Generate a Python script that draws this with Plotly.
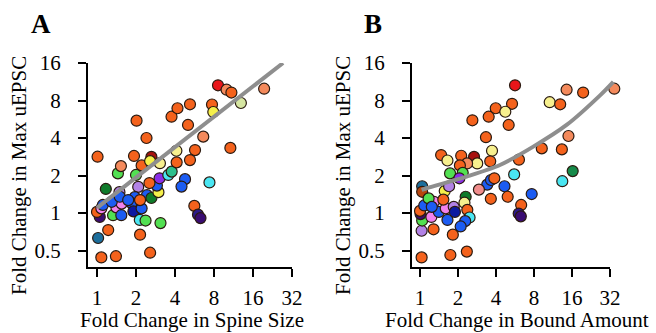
import math
import plotly.graph_objects as go

# ---------------- data ----------------
x_ticks = [1, 2, 4, 8, 16, 32]
x_tick_text = ["1", "2", "4", "8", "16", "32"]
y_ticks = [0.5, 1, 2, 4, 8, 16]
y_tick_text = ["0.5", "1", "2", "4", "8", "16"]

# Panel A: fold change in spine size vs fold change in max uEPSC
a_x = [1.01, 1.08, 1.40, 1.22, 1.02, 1.05, 1.00, 1.08, 1.11, 1.17,
       1.33, 1.41, 1.55, 1.49, 1.54, 1.45, 1.53, 1.93, 2.02, 2.00,
       2.21, 2.41, 2.63, 2.57, 3.06, 2.08, 1.96, 1.85, 1.91, 2.14,
       2.37, 2.15, 2.57, 3.09, 2.43, 2.63, 2.98, 2.90, 3.04, 2.54,
       3.55, 3.77, 4.12, 4.10, 3.76, 4.18, 5.22, 5.04, 5.71, 5.22,
       4.78, 4.49, 5.64, 6.02, 6.29, 6.61, 7.38, 7.72, 7.90, 8.59,
       10.0, 10.9, 10.7, 12.9, 19.5, 1.30, 1.50, 2.21, 2.15, 1.74]
a_y = [2.83, 0.44, 0.45, 0.73, 0.63, 0.93, 1.02, 1.09, 1.16, 1.56,
       0.96, 1.11, 1.19, 1.47, 0.96, 2.08, 2.38, 2.87, 5.51, 2.02,
       2.41, 4.00, 2.82, 2.61, 2.51, 1.62, 1.34, 1.20, 1.03, 0.88,
       0.87, 0.67, 0.48, 0.83, 1.39, 1.32, 1.47, 1.66, 1.90, 1.74,
       2.02, 2.15, 2.55, 3.16, 5.93, 6.93, 7.46, 5.09, 3.20, 2.66,
       1.87, 1.63, 1.14, 0.97, 0.91, 4.10, 1.76, 7.43, 6.47, 10.6,
       9.77, 9.27, 3.33, 7.64, 9.95, 1.23, 1.35, 1.09, 1.27, 1.27]
a_c = ["orange", "orange", "orange", "orange", "teal", "indigo", "orange", "pink", "blue", "darkgreen",
       "green", "pink", "pink", "lavender", "blue", "green", "salmon", "orange", "orange", "green",
       "orange", "orange", "darkred", "yellow", "paleyellow", "lavender", "blue", "blue", "navy", "cyan",
       "green", "orange", "orange", "green", "blue", "darkgreen", "yellow", "blue", "violet", "orange",
       "cyan", "teal green", "orange", "paleyellow", "orange", "orange", "orange", "orange", "orange", "orange",
       "blue", "blue", "orange", "navyviolet", "indigo", "salmon", "cyan", "orange", "yellow", "red",
       "salmon", "orange", "orange", "paleolive", "salmon", "blue", "blue", "blue", "orange", "blue"]

# Panel B: fold change in bound amount vs fold change in max uEPSC
b_x = [5.66, 14.5, 19.6, 34.6, 10.65, 12.9, 5.36, 3.98, 4.74, 3.50,
       2.60, 5.04, 3.33, 15.0, 9.22, 13.3, 3.72, 1.47, 2.12, 1.65,
       2.68, 2.84, 2.36, 3.60, 6.08, 2.07, 1.73, 2.18, 2.05, 5.57,
       16.2, 13.4, 1.04, 1.04, 1.57, 1.70, 3.41, 3.65, 3.88, 4.67,
       2.93, 7.67, 3.64, 4.95, 6.33, 6.05, 6.29, 2.30, 2.25, 2.37,
       2.47, 2.28, 2.10, 1.82, 1.74, 2.35, 1.03, 1.28, 1.03, 1.04,
       1.01, 1.00, 1.08, 1.23, 1.29, 1.41, 1.65, 1.60, 1.85, 1.89,
       1.53, 1.17, 1.24]
b_y = [10.6, 9.77, 9.27, 9.95, 7.75, 7.46, 7.53, 6.93, 6.50, 5.93,
       5.55, 5.09, 4.06, 4.15, 3.30, 3.24, 3.16, 2.92, 2.88, 2.64,
       2.82, 2.50, 2.50, 2.60, 2.68, 2.41, 2.08, 2.10, 1.90, 2.04,
       2.17, 1.80, 1.64, 1.48, 1.50, 1.64, 1.69, 1.84, 1.90, 1.64,
       1.54, 1.42, 1.30, 1.35, 1.16, 0.99, 0.94, 1.35, 1.21, 1.06,
       0.92, 0.86, 0.78, 0.67, 0.46, 0.49, 0.44, 0.74, 0.72, 0.87,
       0.98, 1.04, 1.15, 0.93, 1.23, 1.02, 0.88, 1.09, 1.12, 1.02,
       1.28, 1.31, 1.12]
b_c = ["red", "salmon", "orange", "salmon", "paleyellow", "orange", "orange", "orange", "paleyellow", "orange",
       "orange", "orange", "orange", "salmon", "orange", "orange", "paleyellow", "orange", "orange", "paleyellow",
       "darkred", "paleyellow", "salmon", "orange", "orange", "orange", "green", "green", "violet", "cyan",
       "darkgreen2", "cyan", "teal", "darkorange", "yellow", "lavender", "blue", "blue", "orange", "blue",
       "rosepink", "blue", "orange", "orange", "orange", "navyviolet", "indigo", "darkgreen", "paleyellow", "orange",
       "cyan", "blue", "blue", "orange", "orange", "orange", "orange", "orange", "lavender", "green",
       "indigo", "orange", "blue", "pink", "pink", "blue", "blue", "pink", "lavender", "navy",
       "orange", "green", "blue"]

# Fitted curves
fit_a_x = [1.0, 27.3]
fit_a_y = [1.1, 16.0]
fit_b_x = [1.03, 1.13, 2.34, 4.3, 7.9, 14.5, 26.7, 34.0]
fit_b_y = [1.53, 1.58, 1.96, 2.43, 3.41, 5.09, 8.8, 11.3]

# ---------------- style ----------------
palette = {
    "orange": "#f4621c", "salmon": "#f48a5c", "red": "#e8161a", "darkred": "#a8120e",
    "darkorange": "#b8460e", "paleyellow": "#f7f08e", "yellow": "#f5f04a",
    "paleolive": "#d6e6a2", "green": "#52e052", "darkgreen": "#0f7a2a",
    "darkgreen2": "#168a4a", "teal green": "#2cc08c", "cyan": "#4ae6f2",
    "blue": "#1c5cf2", "navy": "#0c1aa0", "violet": "#8a2ee6", "lavender": "#b282e6",
    "pink": "#f282ee", "indigo": "#3a0c72", "navyviolet": "#2c1a8a",
    "teal": "#1c6e9c", "rosepink": "#f08c8c",
}
FONT = "Liberation Serif"
W, H = 656, 333


def px_x(p):
    return p / W


def px_y(p):
    return (H - p) / H


fig = go.Figure()

# empty trace so that the visible panel-B axes (x2/y2) are drawn
fig.add_trace(go.Scatter(x=[], y=[], xaxis="x2", yaxis="y2", mode="markers",
                         showlegend=False, hoverinfo="skip"))

# B data is drawn on a hidden x axis with the same scale as the visible one,
# but a slightly longer domain, so the marks past 32 are not clipped.
for xs, ys, cs, xa, ya, fx, fy, shape in [
    (a_x, a_y, a_c, "x", "y", fit_a_x, fit_a_y, "linear"),
    (b_x, b_y, b_c, "x3", "y2", fit_b_x, fit_b_y, "spline"),
]:
    fig.add_trace(go.Scatter(
        x=xs, y=ys, mode="markers", xaxis=xa, yaxis=ya, cliponaxis=False,
        marker=dict(size=11, color=[palette[c] for c in cs],
                    line=dict(color="#2a1a10", width=1.2)),
        showlegend=False, hoverinfo="skip"))
    fig.add_trace(go.Scatter(
        x=fx, y=fy, mode="lines", xaxis=xa, yaxis=ya,
        line=dict(color="#8e8e8e", width=4, shape=shape, smoothing=0.8),
        showlegend=False, hoverinfo="skip"))

axis_common = dict(
    type="log", showgrid=False, zeroline=False, showline=True, automargin=False,
    linecolor="black", linewidth=2, ticks="outside", ticklen=8,
    tickwidth=2, tickcolor="black",
    tickfont=dict(family=FONT, size=21, color="black"),
)

y_range = [math.log10(2 ** (4 - 204 / 37.5)), math.log10(16)]
y_dom = [px_y(267), px_y(63)]
b_lo = math.log10(2 ** (5 - 198 / 38))

fig.update_layout(
    template="none",
    width=W, height=H, margin=dict(l=0, r=0, t=0, b=0, pad=0, autoexpand=False),
    plot_bgcolor="rgba(0,0,0,0)", paper_bgcolor="white", showlegend=False,
    xaxis=dict(axis_common, domain=[px_x(88), px_x(292)],
               range=[math.log10(2 ** (5 - 204 / 39)), math.log10(32)],
               tickvals=x_ticks, ticktext=x_tick_text, anchor="y",
               ticklabelstandoff=3),
    yaxis=dict(axis_common, domain=y_dom, range=y_range,
               tickvals=y_ticks, ticktext=y_tick_text, anchor="x",
               ticklabelstandoff=13),
    xaxis2=dict(axis_common, domain=[px_x(412), px_x(610)],
                range=[b_lo, math.log10(32)],
                tickvals=x_ticks, ticktext=x_tick_text, anchor="y2",
                ticklabelstandoff=3),
    yaxis2=dict(axis_common, domain=y_dom, range=y_range,
                tickvals=y_ticks, ticktext=y_tick_text, anchor="x2",
                ticklabelstandoff=13),
    xaxis3=dict(type="log", domain=[px_x(412), px_x(626)],
                range=[b_lo, math.log10(32 * 2 ** (16 / 38))],
                visible=False, anchor="y2", automargin=False),
)

annos = [
    dict(text="A", x=px_x(41), y=px_y(24), font=dict(family=FONT, size=27, color="black"), bold=True),
    dict(text="B", x=px_x(373), y=px_y(24), font=dict(family=FONT, size=27, color="black"), bold=True),
    dict(text="Fold Change in Spine Size", x=px_x(192), y=px_y(320)),
    dict(text="Fold Change in Bound Amount", x=px_x(517), y=px_y(320)),
    dict(text="Fold Change in Max uEPSC", x=px_x(19), y=px_y(176), textangle=-90),
    dict(text="Fold Change in Max uEPSC", x=px_x(343), y=px_y(176), textangle=-90),
]
for a in annos:
    bold = a.pop("bold", False)
    if bold:
        a["text"] = "<b>" + a["text"] + "</b>"
    a.setdefault("font", dict(family=FONT, size=21, color="black"))
    fig.add_annotation(xref="paper", yref="paper", showarrow=False,
                       xanchor="center", yanchor="middle", **a)

fig.write_html(
    "out.html",
    config={"responsive": False, "displayModeBar": False},
    post_script="document.body.style.margin='0';document.body.style.padding='0';"
                "document.documentElement.style.overflow='hidden';",
)
